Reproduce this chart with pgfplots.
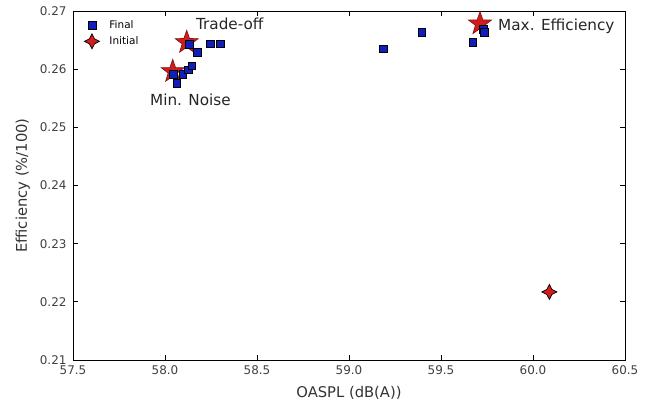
\documentclass[border=0pt]{standalone}
\usepackage{pgfplots}
\pgfplotsset{compat=1.18}
\usepackage{fontspec}
\setmainfont{DejaVu Sans}

\definecolor{finalblue}{RGB}{16,30,190}
\definecolor{initred}{RGB}{212,28,28}
\definecolor{staredge}{RGB}{130,20,20}

% five-pointed filled star
\pgfdeclareplotmark{fivestar}{%
  \pgfpathmoveto{\pgfpointpolar{90}{\pgfplotmarksize}}%
  \pgfpathlineto{\pgfpointpolar{126}{0.4\pgfplotmarksize}}%
  \pgfpathlineto{\pgfpointpolar{162}{\pgfplotmarksize}}%
  \pgfpathlineto{\pgfpointpolar{198}{0.4\pgfplotmarksize}}%
  \pgfpathlineto{\pgfpointpolar{234}{\pgfplotmarksize}}%
  \pgfpathlineto{\pgfpointpolar{270}{0.4\pgfplotmarksize}}%
  \pgfpathlineto{\pgfpointpolar{306}{\pgfplotmarksize}}%
  \pgfpathlineto{\pgfpointpolar{342}{0.4\pgfplotmarksize}}%
  \pgfpathlineto{\pgfpointpolar{18}{\pgfplotmarksize}}%
  \pgfpathlineto{\pgfpointpolar{54}{0.4\pgfplotmarksize}}%
  \pgfpathclose
  \pgfusepathqfillstroke}

% four-pointed filled star
\pgfdeclareplotmark{fourstar}{%
  \pgfpathmoveto{\pgfpointpolar{90}{\pgfplotmarksize}}%
  \pgfpathlineto{\pgfpointpolar{135}{0.48\pgfplotmarksize}}%
  \pgfpathlineto{\pgfpointpolar{180}{\pgfplotmarksize}}%
  \pgfpathlineto{\pgfpointpolar{225}{0.48\pgfplotmarksize}}%
  \pgfpathlineto{\pgfpointpolar{270}{\pgfplotmarksize}}%
  \pgfpathlineto{\pgfpointpolar{315}{0.48\pgfplotmarksize}}%
  \pgfpathlineto{\pgfpointpolar{0}{\pgfplotmarksize}}%
  \pgfpathlineto{\pgfpointpolar{45}{0.48\pgfplotmarksize}}%
  \pgfpathclose
  \pgfusepathqfillstroke}

\begin{document}
\begin{tikzpicture}
\begin{axis}[
  scale only axis,
  width=552bp, height=349bp,
  xmin=57.5, xmax=60.5, ymin=0.21, ymax=0.27,
  xtick={57.5,58.0,58.5,59.0,59.5,60.0,60.5},
  ytick={0.21,0.22,0.23,0.24,0.25,0.26,0.27},
  xtick pos=both, ytick pos=both,
  tick align=inside,
  major tick length=5bp,
  axis line style={line width=0.9bp},
  tick style={line width=0.7bp, black},
  /pgf/number format/assume math mode=true,
  xticklabel style={/pgf/number format/fixed, /pgf/number format/precision=1,
    /pgf/number format/fixed zerofill, yshift=-2bp},
  yticklabel style={/pgf/number format/fixed, /pgf/number format/precision=2,
    /pgf/number format/fixed zerofill, xshift=-3bp},
  scaled ticks=false,
  tick label style={font=\fontsize{12}{14}\selectfont, text=black!75},
  xlabel={OASPL (dB(A))},
  ylabel={Efficiency (\%/100)},
  label style={font=\fontsize{14.8}{17}\selectfont, text=black!80},
  xlabel style={yshift=-5bp},
  ylabel style={yshift=3bp},
  legend style={draw=none, fill=none, at={(0.015,0.985)}, anchor=north west,
    font=\fontsize{10.5}{12}\selectfont, row sep=2bp, column sep=8bp},
  legend cell align=left,
  clip=false,
]
% highlighted designs
\addplot[only marks, mark=fivestar, mark size=12bp,
  mark options={fill=initred, draw=staredge, line width=0.7bp}, forget plot]
  coordinates {(58.042,0.2596) (58.118,0.2646) (59.712,0.2678)};

\addplot[only marks, mark=square*, mark size=3.8bp,
  mark options={fill=finalblue, draw=black, line width=0.4bp}]
  coordinates {
    (58.064,0.2576) (58.045,0.2591) (58.096,0.2591) (58.127,0.2599)
    (58.145,0.2606) (58.132,0.2643) (58.176,0.2629) (58.245,0.2644)
    (58.299,0.2644) (59.186,0.2635) (59.395,0.2664) (59.672,0.2646)
    (59.730,0.2669) (59.734,0.2664)
  };
\addlegendentry{Final}

\addplot[only marks, mark=fourstar, mark size=7.5bp,
  mark options={fill=initred, draw=black, line width=0.7bp}]
  coordinates {(60.089,0.2217)};
\addlegendentry{Initial}

\node[anchor=west, font=\fontsize{15.3}{17}\selectfont, text=black!85, inner sep=0pt]
  at (axis cs:58.168,0.2678) {Trade-off};
\node[anchor=west, font=\fontsize{15.3}{17}\selectfont, text=black!85, inner sep=0pt]
  at (axis cs:57.918,0.2547) {Min. Noise};
\node[anchor=west, font=\fontsize{15.3}{17}\selectfont, text=black!85, inner sep=0pt]
  at (axis cs:59.810,0.2673) {Max. Efficiency};
\end{axis}
\pgfresetboundingbox
\path ([shift={(-73bp,-48bp)}]current axis.south west)
  rectangle ([shift={(35bp,11bp)}]current axis.north east);
\end{tikzpicture}
\end{document}
